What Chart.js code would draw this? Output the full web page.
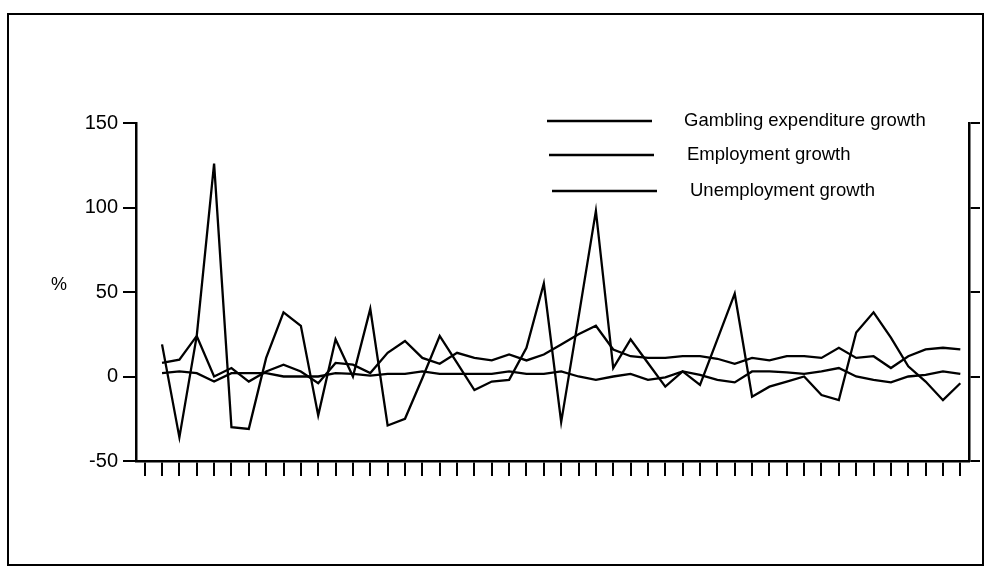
<!DOCTYPE html>
<html>
<head>
<meta charset="utf-8">
<script src="https://cdn.jsdelivr.net/npm/chart.js@4.4.0/dist/chart.umd.min.js"></script>
<style>
  html, body { margin: 0; padding: 0; background: #fff; }
  #wrap { width: 986px; height: 568px; position: relative; }
</style>
</head>
<body>
<div id="wrap"><canvas id="chart" width="986" height="568"></canvas></div>
<script>
// 48 periods on the x axis; the first one has no data
const periods = Array.from({ length: 48 }, (_, i) => 'P' + (i + 1));

const gamblingGrowth = [null, 19, -36, 24, 126, -30, -31, 11, 38, 30, -23, 22, 0, 40, -29, -25,
  -1, 24, 8, -8, -3, -2, 17, 55, -27, 35, 98, 5, 22, 8, -6,
  3, -5, 22, 49, -12, -6, -3, 0, -11, -14, 26, 38, 23, 6, -3, -14, -4];

const employmentGrowth = [null, 2, 3, 2, -3, 2, 2, 2, 0, 0, 0, 2, 1.5, 0.5, 1.5, 1.5,
  3, 1.5, 1.5, 1.5, 1.5, 3, 1.5, 1.5, 3, 0, -2, 0, 1.5, -2, -0.5,
  3, 1, -2, -3.5, 3, 3, 2.5, 1.5, 3, 5, 0, -2, -3.5, 0, 1, 3, 1.5];

const unemploymentGrowth = [null, 8, 10, 24, 0, 5, -3, 3, 7, 3, -4, 8, 7, 2, 14, 21,
  11, 7.5, 14, 11, 9.5, 13, 9.5, 13, 19, 25, 30, 16, 12, 11, 11,
  12, 12, 10.5, 7.5, 11, 9.5, 12, 12, 11, 17, 11, 12, 5, 12, 16, 17, 16];

const yTicks = [-50, 0, 50, 100, 150];
const yUnit = '%';
const legendLabels = ['Gambling expenditure growth', 'Employment growth', 'Unemployment growth'];

const FONT = '"Liberation Sans", Arial, Helvetica, sans-serif';

// frame, unit label and the hand-placed legend
const overlay = {
  id: 'overlay',
  afterDraw(chart) {
    const ctx = chart.ctx;
    ctx.save();
    ctx.strokeStyle = '#000';
    ctx.lineWidth = 2;
    ctx.strokeRect(8, 14, 975, 551);

    ctx.fillStyle = '#000';
    ctx.font = '18px ' + FONT;
    ctx.textAlign = 'center';
    ctx.textBaseline = 'middle';
    ctx.fillText(yUnit, 59, 285);

    const rowY = [121, 155, 191];
    const lineX = [547, 549, 552];
    const textX = [684, 687, 690];
    ctx.font = '18.5px ' + FONT;
    ctx.textAlign = 'left';
    ctx.lineWidth = 2.3;
    legendLabels.forEach((txt, i) => {
      ctx.beginPath();
      ctx.moveTo(lineX[i], rowY[i]);
      ctx.lineTo(lineX[i] + 105, rowY[i]);
      ctx.stroke();
      ctx.fillText(txt, textX[i], rowY[i]);
    });
    ctx.restore();
  }
};

function lineSet(label, data) {
  return {
    label, data,
    borderColor: '#000',
    borderWidth: 2.3,
    pointRadius: 0,
    tension: 0,
    fill: false,
    yAxisID: 'y'
  };
}

new Chart(document.getElementById('chart'), {
  type: 'line',
  data: {
    labels: periods,
    datasets: [
      lineSet(legendLabels[0], gamblingGrowth),
      lineSet(legendLabels[1], employmentGrowth),
      lineSet(legendLabels[2], unemploymentGrowth)
    ]
  },
  options: {
    responsive: false,
    animation: false,
    layout: { padding: { top: 123, left: 0, right: 0, bottom: 0 } },
    plugins: { legend: { display: false }, tooltip: { enabled: false } },
    scales: {
      x: {
        offset: true,
        afterFit: s => { s.height = 107; },
        grid: { offset: false, drawOnChartArea: false, tickLength: 15, color: '#000', lineWidth: 2 },
        border: { display: true, color: '#000', width: 2.5 },
        ticks: { display: false, autoSkip: false }
      },
      y: {
        position: 'left',
        min: -50, max: 150,
        afterFit: s => { s.width = 136; },
        afterBuildTicks: s => { s.ticks = yTicks.map(v => ({ value: v })); },
        grid: { drawOnChartArea: false, tickLength: 13, color: '#000', lineWidth: 2 },
        border: { display: true, color: '#000', width: 2.5 },
        ticks: { color: '#000', padding: 5, font: { family: FONT, size: 20 } }
      },
      y2: {
        position: 'right',
        min: -50, max: 150,
        afterFit: s => { s.width = 17; },
        afterBuildTicks: s => { s.ticks = yTicks.map(v => ({ value: v })); },
        grid: { drawOnChartArea: false, tickLength: 11, color: '#000', lineWidth: 2 },
        border: { display: true, color: '#000', width: 2.5 },
        ticks: { display: false }
      }
    }
  },
  plugins: [overlay]
});
</script>
</body>
</html>
